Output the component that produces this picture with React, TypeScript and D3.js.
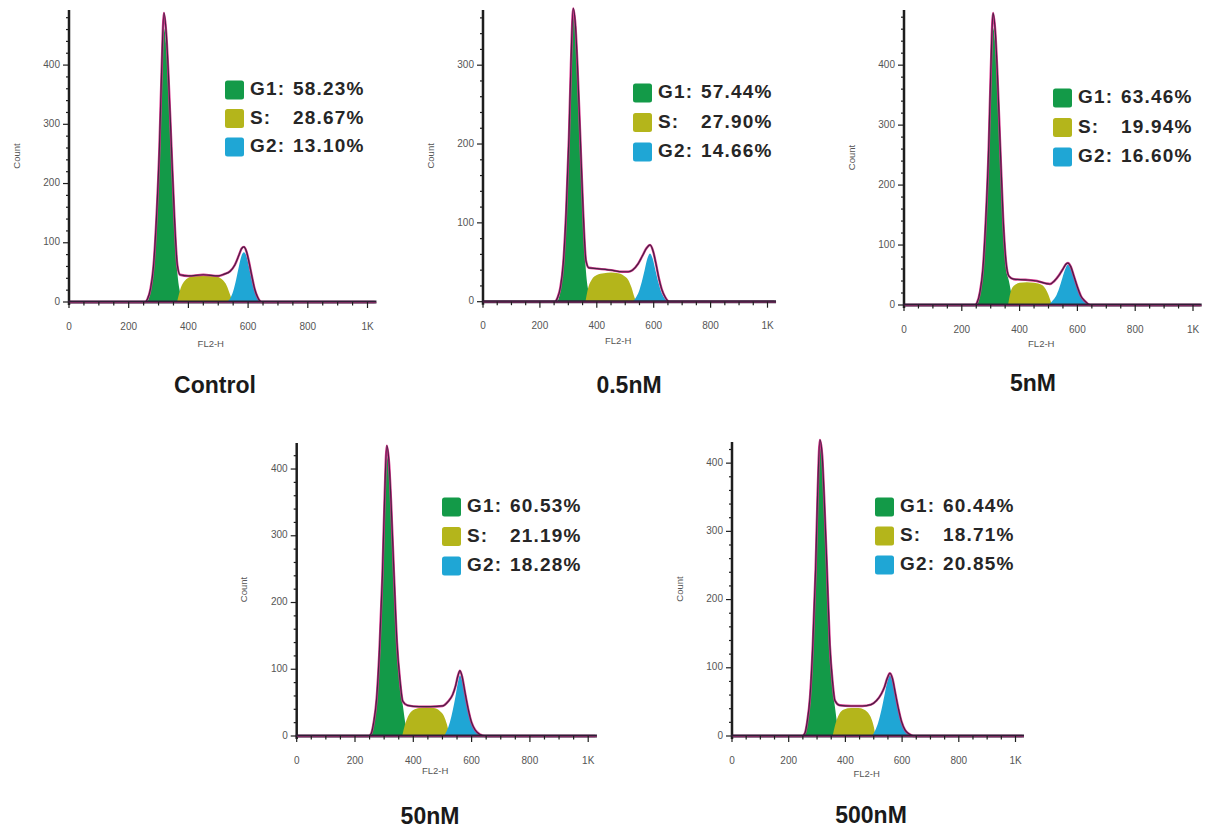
import React from "react";
import * as d3 from "d3";

type Pt = [number, number];

// ---------- DATA ----------
const panelNames = ["Control", "0.5nM", "5nM", "50nM", "500nM"];
const g1Values = ["58.23%", "57.44%", "63.46%", "60.53%", "60.44%"];
const sValues = ["28.67%", "27.90%", "19.94%", "21.19%", "18.71%"];
const g2Values = ["13.10%", "14.66%", "16.60%", "18.28%", "20.85%"];
const phaseLabels = ["G1:", "S:", "G2:"];
const yMaxes = [493, 370, 492, 439, 431];
const yTickValues = [
  [0, 100, 200, 300, 400],
  [0, 100, 200, 300],
  [0, 100, 200, 300, 400],
  [0, 100, 200, 300, 400],
  [0, 100, 200, 300, 400],
];
const xTickValues = [0, 200, 400, 600, 800, 1000];
const xTickLabels = ["0", "200", "400", "600", "800", "1K"];
const xMax = 1030;

const controlG1: Pt[] = [[263,0],[273,18],[283,55],[293,135],[303,254],[310,370],[318,462],[326,430],[333,370],[343,254],[353,135],[363,50],[373,15],[383,0]];
const controlS: Pt[] = [[362,0],[372,20],[385,34],[400,41],[425,45],[450,46],[475,45],[500,42],[515,37],[528,28],[540,12],[548,0]];
const controlG2: Pt[] = [[528,0],[540,6],[550,18],[560,38],[570,62],[578,78],[586,84],[594,78],[602,62],[612,38],[622,18],[632,6],[642,0]];
const controlTotal: Pt[] = [[0,0],[255,0],[263,5],[273,22],[283,60],[293,142],[303,262],[310,385],[318,488],[326,452],[333,385],[343,264],[353,145],[363,62],[372,46],[400,44],[450,46],[500,44],[520,47],[540,52],[555,62],[570,80],[578,90],[586,93],[594,86],[602,70],[612,45],[622,22],[632,8],[645,0],[1024,0]];

const nM05G1: Pt[] = [[262,0],[272,14],[282,43],[292,105],[302,200],[309,290],[317,362],[325,340],[332,290],[342,200],[352,105],[362,38],[372,11],[382,0]];
const nM05S: Pt[] = [[360,0],[370,18],[382,28],[400,34],[425,36],[450,37],[475,36],[495,33],[510,28],[522,18],[532,6],[538,0]];
const nM05G2: Pt[] = [[525,0],[537,5],[548,13],[558,25],[568,40],[578,55],[587,61],[596,55],[606,40],[616,25],[626,13],[637,5],[650,0]];
const nM05Total: Pt[] = [[0,0],[252,0],[262,5],[272,18],[282,48],[292,112],[302,208],[309,300],[317,372],[325,350],[332,300],[342,208],[352,115],[362,52],[372,43],[400,42],[450,40],[490,38],[510,38],[525,40],[545,48],[560,58],[575,68],[587,72],[598,64],[608,48],[618,30],[628,16],[640,6],[655,0],[1024,0]];

const nM5G1: Pt[] = [[253,0],[263,18],[273,55],[283,135],[293,254],[300,370],[308,462],[316,434],[323,370],[333,254],[343,135],[353,62],[363,40],[375,12],[385,0]];
const nM5S: Pt[] = [[360,0],[368,20],[380,32],[400,37],[425,38],[450,37],[470,35],[485,30],[495,22],[505,10],[512,0]];
const nM5G2: Pt[] = [[500,0],[512,6],[525,14],[537,28],[548,45],[558,60],[567,67],[577,60],[588,45],[600,28],[612,14],[625,6],[640,2],[655,0]];
const nM5Total: Pt[] = [[0,0],[246,0],[253,4],[263,22],[273,60],[283,142],[293,262],[300,385],[308,487],[316,455],[323,388],[333,264],[343,145],[353,72],[363,48],[380,43],[420,42],[460,40],[490,36],[505,35],[520,40],[537,50],[550,60],[560,68],[567,70],[577,64],[588,48],[600,30],[612,15],[625,7],[645,0],[1024,0]];

const nM50G1: Pt[] = [[254,0],[264,16],[274,50],[284,123],[294,232],[301,337],[309,421],[317,396],[324,337],[334,232],[344,130],[354,78],[364,46],[374,16],[385,0]];
const nM50S: Pt[] = [[362,0],[372,18],[385,32],[400,39],[420,42],[445,43],[470,42],[490,38],[505,30],[515,18],[522,6],[526,0]];
const nM50G2: Pt[] = [[505,0],[515,8],[525,20],[535,38],[545,60],[553,80],[560,91],[568,82],[577,62],[588,38],[600,18],[612,8],[625,3],[645,0]];
const nM50Total: Pt[] = [[0,0],[248,0],[256,4],[264,20],[274,55],[284,130],[294,240],[301,348],[309,435],[317,408],[324,348],[334,240],[344,140],[354,85],[364,52],[380,46],[420,44],[460,44],[500,45],[520,52],[535,62],[545,75],[553,90],[560,98],[568,88],[577,66],[588,41],[600,20],[612,9],[630,2],[645,0],[1024,0]];

const nM500G1: Pt[] = [[255,0],[265,16],[275,51],[285,126],[295,237],[302,345],[310,431],[318,405],[325,345],[335,237],[345,126],[355,72],[363,43],[373,14],[384,0]];
const nM500S: Pt[] = [[355,0],[365,18],[378,32],[395,39],[420,41],[445,41],[465,39],[480,34],[492,25],[500,14],[506,0]];
const nM500G2: Pt[] = [[494,0],[505,8],[516,20],[527,38],[538,60],[548,80],[557,89],[566,80],[576,60],[587,38],[598,20],[610,8],[624,2],[640,0]];
const nM500Total: Pt[] = [[0,0],[248,0],[257,4],[265,20],[275,56],[285,133],[295,245],[302,355],[310,434],[318,412],[325,352],[335,245],[345,134],[355,78],[363,52],[380,45],[420,44],[460,44],[490,46],[510,52],[527,62],[538,72],[548,85],[557,92],[566,84],[576,63],[587,40],[598,21],[610,9],[625,3],[640,0],[1024,0]];

const g1Series = [controlG1, nM05G1, nM5G1, nM50G1, nM500G1];
const sSeries = [controlS, nM05S, nM5S, nM50S, nM500S];
const g2Series = [controlG2, nM05G2, nM5G2, nM50G2, nM500G2];
const totalSeries = [controlTotal, nM05Total, nM5Total, nM50Total, nM500Total];

// ---------- LAYOUT / STYLE ----------
const layouts = [
  { x0: 69, kx: 0.2985, zeroY: 302, topY: 10, legX: 225, legY: 90, legDy: 28.5, titleX: 215, titleY: 387, flOff: 42 },
  { x0: 483, kx: 0.2845, zeroY: 301.7, topY: 10, legX: 633, legY: 93, legDy: 29.5, titleX: 629, titleY: 387, flOff: 40 },
  { x0: 904, kx: 0.289, zeroY: 305, topY: 10, legX: 1053, legY: 98, legDy: 29.5, titleX: 1033, titleY: 385, flOff: 39 },
  { x0: 296.7, kx: 0.2915, zeroY: 736, topY: 443, legX: 442, legY: 507, legDy: 29.5, titleX: 430, titleY: 818, flOff: 35 },
  { x0: 732, kx: 0.2835, zeroY: 736, topY: 442, legX: 875, legY: 507, legDy: 29, titleX: 871, titleY: 817, flOff: 38 },
];
const colors = { g1: "#139a48", s: "#b4b51b", g2: "#1fa6d5", magenta: "#d8378e", dark: "#2e1f36", axis: "#1e1e1e", tick: "#555" };
const FONT = "'Liberation Sans', Arial, Helvetica, sans-serif";

function Panel({ i }: { i: number }) {
  const L = layouts[i];
  const x = d3.scaleLinear().domain([0, xMax]).range([L.x0, L.x0 + xMax * L.kx]);
  const y = d3.scaleLinear().domain([0, yMaxes[i]]).range([L.zeroY, L.topY]);
  const area = d3
    .area<Pt>()
    .x((d) => x(d[0]))
    .y0(y(0))
    .y1((d) => y(d[1]))
    .curve(d3.curveMonotoneX);
  const line = d3
    .line<Pt>()
    .x((d) => x(d[0]))
    .y((d) => y(d[1]))
    .curve(d3.curveMonotoneX);
  const xMinor = d3.range(0, xMax, 50);
  const yMinor = d3.range(0, yMaxes[i], 20);
  const legendColors = [colors.g1, colors.s, colors.g2];
  const legendValues = [g1Values[i], sValues[i], g2Values[i]];
  return (
    <g>
      <path d={area(g1Series[i]) || ""} fill={colors.g1} />
      <path d={area(sSeries[i]) || ""} fill={colors.s} />
      <path d={area(g2Series[i]) || ""} fill={colors.g2} />
      <path d={line(totalSeries[i]) || ""} fill="none" stroke={colors.magenta} strokeWidth={2.4} />
      <path d={line(totalSeries[i]) || ""} fill="none" stroke={colors.dark} strokeWidth={1.2} opacity={0.85} />
      {/* y axis */}
      <line x1={x(0)} x2={x(0)} y1={y(yMaxes[i])} y2={L.zeroY + 3} stroke={colors.axis} strokeWidth={2.5} />
      {yMinor.map((v) => (
        <line key={"ym" + v} x1={x(0) - (v % 100 === 0 ? 6 : 3)} x2={x(0)} y1={y(v)} y2={y(v)} stroke={colors.axis} strokeWidth={1.2} />
      ))}
      {yTickValues[i].map((v) => (
        <text key={"yt" + v} x={x(0) - 9} y={y(v)} textAnchor="end" dominantBaseline="middle" fontFamily={FONT} fontSize={10} fill={colors.tick}>
          {v}
        </text>
      ))}
      <text
        transform={`translate(${x(0) - 52},${(L.zeroY + L.topY) / 2}) rotate(-90)`}
        textAnchor="middle"
        dominantBaseline="middle"
        fontFamily={FONT}
        fontSize={9.5}
        fill={colors.tick}
      >
        Count
      </text>
      {/* x axis */}
      <line x1={x(0) - 1} x2={x(xMax)} y1={L.zeroY} y2={L.zeroY} stroke={colors.dark} strokeWidth={3} />
      <line x1={x(0)} x2={x(xMax)} y1={L.zeroY + 0.5} y2={L.zeroY + 0.5} stroke={colors.magenta} strokeWidth={0.8} opacity={0.6} />
      {xMinor.map((v) => (
        <line key={"xm" + v} x1={x(v)} x2={x(v)} y1={L.zeroY} y2={L.zeroY + (v % 200 === 0 ? 6 : 3.5)} stroke={colors.axis} strokeWidth={1.2} />
      ))}
      {xTickValues.map((v, k) => (
        <text key={"xt" + v} x={x(v)} y={L.zeroY + 25} textAnchor="middle" dominantBaseline="middle" fontFamily={FONT} fontSize={10} fill={colors.tick}>
          {xTickLabels[k]}
        </text>
      ))}
      <text x={x(475)} y={L.zeroY + L.flOff} textAnchor="middle" dominantBaseline="middle" fontFamily={FONT} fontSize={9.5} fill={colors.tick}>
        FL2-H
      </text>
      {/* legend */}
      {phaseLabels.map((lab, k) => (
        <g key={"lg" + k} transform={`translate(${L.legX},${L.legY + k * L.legDy})`}>
          <rect x={0} y={-9.5} width={19} height={19} rx={2.5} fill={legendColors[k]} />
          <text x={25} y={0} dominantBaseline="middle" fontFamily={FONT} fontWeight="bold" fontSize={19} fill="#262626" letterSpacing={1.2}>
            {lab}
          </text>
          <text x={68} y={0} dominantBaseline="middle" fontFamily={FONT} fontWeight="bold" fontSize={19} fill="#262626" letterSpacing={1.2}>
            {legendValues[k]}
          </text>
        </g>
      ))}
      {/* title */}
      <text x={L.titleX} y={L.titleY} textAnchor="middle" dominantBaseline="middle" fontFamily={FONT} fontWeight="bold" fontSize={23} fill="#1a1a1a">
        {panelNames[i]}
      </text>
    </g>
  );
}

export default function App() {
  return (
    <svg width={1210} height={836} style={{ position: "absolute", left: 0, top: 0, background: "#fff" }}>
      <rect width={1210} height={836} fill="#fff" />
      {panelNames.map((_, i) => (
        <Panel key={i} i={i} />
      ))}
    </svg>
  );
}
